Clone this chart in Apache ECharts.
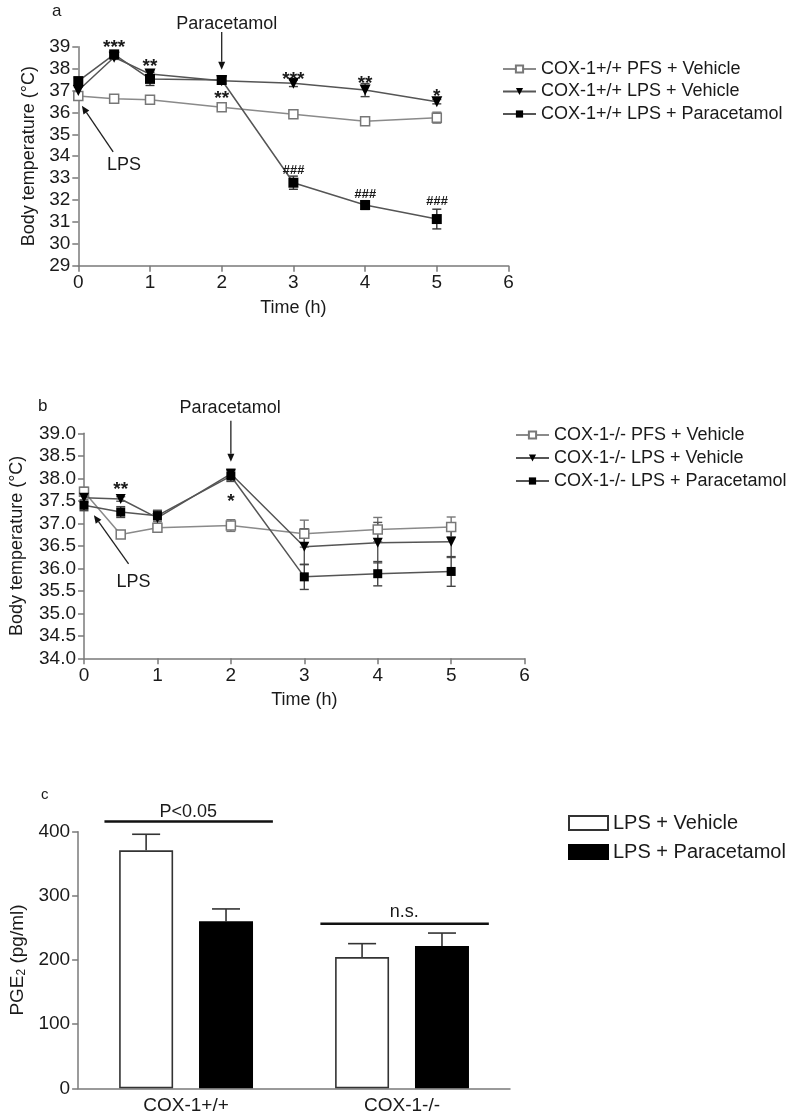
<!DOCTYPE html>
<html><head><meta charset="utf-8">
<script src="https://cdn.jsdelivr.net/npm/echarts@6/dist/echarts.min.js"></script>
<style>html,body{margin:0;padding:0;background:#fff}#c{width:800px;height:1120px}</style>
</head><body><div id="c"></div>
<script>
var FONT = '"Liberation Sans", Arial, Helvetica, sans-serif';

// ---------- DATA ----------
var times = [0, 0.5, 1, 2, 3, 4, 5];

// Panel a (COX-1+/+)
var aNames = ['COX-1+/+ PFS + Vehicle', 'COX-1+/+ LPS + Vehicle', 'COX-1+/+ LPS + Paracetamol'];
var aPFS = [36.75, 36.62, 36.58, 36.23, 35.91, 35.60, 35.76];
var aPFSErr = [0.10, 0.10, 0.10, 0.10, 0.10, 0.10, 0.25];
var aLPSVeh = [37.00, 38.52, 37.75, 37.45, 37.33, 37.02, 36.49];
var aLPSVehErr = [0.15, 0.10, 0.15, 0.15, 0.15, 0.30, 0.10];
var aLPSPara = [37.43, 38.65, 37.53, 37.48, 32.79, 31.77, 31.13];
var aLPSParaErr = [0.15, 0.10, 0.30, 0.15, 0.30, 0.20, 0.45];
var aStars = [[0.5, 39.17, '***'], [1, 38.30, '**'], [2, 36.87, '**'], [3, 37.70, '***'], [4, 37.55, '**'], [5, 36.95, '*']];
var aHashes = [[3, 33.37, '###'], [4, 32.26, '###'], [5, 31.92, '###']];

// Panel b (COX-1-/-)
var bNames = ['COX-1-/- PFS + Vehicle', 'COX-1-/- LPS + Vehicle', 'COX-1-/- LPS + Paracetamol'];
var bPFS = [37.70, 36.75, 36.90, 36.95, 36.77, 36.86, 36.92];
var bPFSErr = [0.10, 0.05, 0.10, 0.13, 0.30, 0.27, 0.22];
var bLPSVeh = [37.57, 37.54, 37.12, 38.10, 36.48, 36.57, 36.59];
var bLPSVehErr = [0.10, 0.05, 0.15, 0.10, 0.40, 0.45, 0.35];
var bLPSPara = [37.40, 37.25, 37.17, 38.05, 35.81, 35.88, 35.93];
var bLPSParaErr = [0.12, 0.12, 0.12, 0.12, 0.28, 0.27, 0.33];
var bStars = [[0.5, 37.85, '**'], [2, 37.59, '*']];

// Panel c (PGE2)
var cCategories = ['COX-1+/+', 'COX-1-/-'];
var cNames = ['LPS + Vehicle', 'LPS + Paracetamol'];
var cVehicle = [371, 204.5];
var cVehicleErr = [25, 21];
var cPara = [260.6, 222];
var cParaErr = [19, 20];

// ---------- STYLE ----------
var AXIS = '#7a7a7a', TXT = '#1a1a1a', LINE_LIGHT = '#8a8a8a', LINE_DARK = '#555';

var chart = echarts.init(document.getElementById('c'), null, {renderer: 'canvas'});

function pairs(xs, ys) { return xs.map(function (x, i) { return [x, ys[i]]; }); }
function errData(xs, ys, es) { return xs.map(function (x, i) { return [x, ys[i], es[i]]; }); }

function errRender(cap, color) {
  return function (params, api) {
    var x = api.value(0), y = api.value(1), e = api.value(2);
    var t = api.coord([x, y + e]), b = api.coord([x, y - e]);
    var st = {stroke: color, lineWidth: 1.4};
    return {type: 'group', children: [
      {type: 'line', shape: {x1: t[0], y1: t[1], x2: b[0], y2: b[1]}, style: st},
      {type: 'line', shape: {x1: t[0] - cap / 2, y1: t[1], x2: t[0] + cap / 2, y2: t[1]}, style: st},
      {type: 'line', shape: {x1: b[0] - cap / 2, y1: b[1], x2: b[0] + cap / 2, y2: b[1]}, style: st}
    ]};
  };
}

function axisCommon() {
  return {
    axisLine: {show: true, onZero: false, lineStyle: {color: AXIS, width: 1.5}},
    axisTick: {show: true, inside: false, length: 6, lineStyle: {color: AXIS, width: 1.5}},
    splitLine: {show: false},
    axisLabel: {color: TXT, fontSize: 19, fontFamily: FONT}
  };
}
function merge(a, b) { for (var k in b) a[k] = b[k]; return a; }

function lineSeries(name, gi, ys, kind, size) {
  var s = {
    name: name, type: 'line', xAxisIndex: gi, yAxisIndex: gi,
    data: pairs(times, ys), symbolSize: size, z: 5,
    lineStyle: {width: 1.5, color: kind === 'open' ? LINE_LIGHT : LINE_DARK},
    emphasis: {disabled: true}
  };
  if (kind === 'open') {
    s.symbol = 'rect';
    s.itemStyle = {color: '#fff', borderColor: '#777', borderWidth: 1.5};
  } else if (kind === 'tri') {
    s.symbol = 'triangle'; s.symbolRotate = 180;
    s.itemStyle = {color: '#000', borderColor: '#000', borderWidth: 0};
  } else {
    s.symbol = 'rect';
    s.itemStyle = {color: '#000', borderColor: '#000', borderWidth: 0};
  }
  return s;
}
function errSeries(gi, ys, es, cap, color) {
  return {type: 'custom', xAxisIndex: gi, yAxisIndex: gi, z: 4, silent: true,
    renderItem: errRender(cap, color), data: errData(times, ys, es)};
}

var BAR_W = 0.25, BAR_GAP = 0.48;
function barErrRender(sign) {
  return function (params, api) {
    var ci = api.value(0), v = api.value(1), e = api.value(2);
    var band = api.size([1, 0])[0];
    var off = sign * band * BAR_W * (1 + BAR_GAP) / 2;
    var b = api.coord([ci, v]), t = api.coord([ci, v + e]);
    var x = b[0] + off;
    var st = {stroke: '#333', lineWidth: 1.6};
    return {type: 'group', children: [
      {type: 'line', shape: {x1: x, y1: b[1], x2: x, y2: t[1]}, style: st},
      {type: 'line', shape: {x1: x - 14, y1: t[1], x2: x + 14, y2: t[1]}, style: st}
    ]};
  };
}

var legendText = {color: TXT, fontSize: 18, fontFamily: FONT};

var option = {
  backgroundColor: '#fff',
  animation: false,
  textStyle: {fontFamily: FONT},
  grid: [
    {left: 78.3, top: 46.7, width: 430.2, height: 219},
    {left: 80, top: 433.3, width: 444.6, height: 225},
    {left: 68.3, top: 831.7, width: 441.7, height: 256.6}
  ],
  legend: [
    {data: aNames, orient: 'vertical', left: 497, top: 55, itemWidth: 33, itemHeight: 9, itemGap: 4.5,
      textStyle: legendText, selectedMode: false},
    {data: bNames, orient: 'vertical', left: 510, top: 421, itemWidth: 33, itemHeight: 9, itemGap: 5,
      textStyle: legendText, selectedMode: false},
    {data: cNames, orient: 'vertical', left: 563, top: 808, itemWidth: 39, itemHeight: 14, itemGap: 9,
      icon: 'rect', textStyle: {color: TXT, fontSize: 20, fontFamily: FONT}, selectedMode: false}
  ],
  xAxis: [
    merge(axisCommon(), {gridIndex: 0, type: 'value', min: 0, max: 6, interval: 1,
      name: 'Time (h)', nameLocation: 'middle', nameGap: 33,
      nameTextStyle: {color: TXT, fontSize: 18, fontFamily: FONT}}),
    merge(axisCommon(), {gridIndex: 1, type: 'value', min: 0, max: 6, interval: 1,
      name: 'Time (h)', nameLocation: 'middle', nameGap: 33,
      nameTextStyle: {color: TXT, fontSize: 18, fontFamily: FONT}}),
    merge(axisCommon(), {gridIndex: 2, type: 'category', data: cCategories,
      axisTick: {show: false}})
  ],
  yAxis: [
    merge(axisCommon(), {gridIndex: 0, type: 'value', min: 29, max: 39, interval: 1,
      name: 'Body temperature (°C)', nameLocation: 'middle', nameGap: 33,
      nameTextStyle: {color: TXT, fontSize: 18, fontFamily: FONT}}),
    merge(axisCommon(), {gridIndex: 1, type: 'value', min: 34, max: 39, interval: 0.5,
      name: 'Body temperature (°C)', nameLocation: 'middle', nameGap: 58,
      nameTextStyle: {color: TXT, fontSize: 18, fontFamily: FONT},
      axisLabel: {color: TXT, fontSize: 19, fontFamily: FONT, formatter: function (v) { return v.toFixed(1); }}}),
    merge(axisCommon(), {gridIndex: 2, type: 'value', min: 0, max: 400, interval: 100,
      name: 'PGE{sub|2} (pg/ml)', nameLocation: 'middle', nameGap: 45,
      nameTextStyle: {color: TXT, fontSize: 19, fontFamily: FONT,
        rich: {sub: {fontSize: 12, verticalAlign: 'bottom', padding: [8, 0, 0, 0], color: TXT}}}})
  ],
  series: [
    errSeries(0, aPFS, aPFSErr, 9, '#777'),
    errSeries(0, aLPSVeh, aLPSVehErr, 9, '#444'),
    errSeries(0, aLPSPara, aLPSParaErr, 9, '#333'),
    lineSeries(aNames[0], 0, aPFS, 'open', 9),
    lineSeries(aNames[1], 0, aLPSVeh, 'tri', 11),
    lineSeries(aNames[2], 0, aLPSPara, 'sq', 10),

    errSeries(1, bPFS, bPFSErr, 9, '#777'),
    errSeries(1, bLPSVeh, bLPSVehErr, 9, '#555'),
    errSeries(1, bLPSPara, bLPSParaErr, 9, '#444'),
    lineSeries(bNames[0], 1, bPFS, 'open', 9),
    lineSeries(bNames[1], 1, bLPSVeh, 'tri', 10),
    lineSeries(bNames[2], 1, bLPSPara, 'sq', 9),

    {name: cNames[0], type: 'bar', xAxisIndex: 2, yAxisIndex: 2, data: cVehicle,
      barWidth: (BAR_W * 100) + '%', barGap: (BAR_GAP * 100) + '%',
      itemStyle: {color: '#fff', borderColor: '#333', borderWidth: 1.6}, emphasis: {disabled: true}},
    {name: cNames[1], type: 'bar', xAxisIndex: 2, yAxisIndex: 2, data: cPara,
      barWidth: (BAR_W * 100) + '%', barGap: (BAR_GAP * 100) + '%',
      itemStyle: {color: '#000', borderColor: '#000', borderWidth: 1.6}, emphasis: {disabled: true}},
    {type: 'custom', xAxisIndex: 2, yAxisIndex: 2, z: 1, silent: true, renderItem: barErrRender(-1),
      data: cVehicle.map(function (v, i) { return [i, v, cVehicleErr[i]]; })},
    {type: 'custom', xAxisIndex: 2, yAxisIndex: 2, z: 1, silent: true, renderItem: barErrRender(1),
      data: cPara.map(function (v, i) { return [i, v, cParaErr[i]]; })}
  ]
};
chart.setOption(option);

// ---------- ANNOTATIONS (positions from data coordinates) ----------
function px(g, x, y) { return chart.convertToPixel({gridIndex: g}, [x, y]); }
var G = [];
function text(p, s, font, dy, align) {
  G.push({type: 'text', x: p[0], y: p[1] + (dy || 0), z: 50,
    style: {text: s, font: font, fill: TXT, align: align || 'center', verticalAlign: 'middle'}});
}
function arrow(p1, p2) {
  var dx = p2[0] - p1[0], dy = p2[1] - p1[1], L = Math.sqrt(dx * dx + dy * dy);
  var ux = dx / L, uy = dy / L, hl = 8, hw = 3.5;
  var bx = p2[0] - ux * hl, by = p2[1] - uy * hl;
  G.push({type: 'line', z: 50, shape: {x1: p1[0], y1: p1[1], x2: bx, y2: by}, style: {stroke: '#222', lineWidth: 1.3}});
  G.push({type: 'polygon', z: 50, shape: {points: [[p2[0], p2[1]], [bx - uy * hw, by + ux * hw], [bx + uy * hw, by - ux * hw]]},
    style: {fill: '#111'}});
}
// panel labels
G.push({type: 'text', left: 52, top: 3, style: {text: 'a', font: '17px ' + FONT, fill: TXT}});
G.push({type: 'text', left: 38, top: 398, style: {text: 'b', font: '17px ' + FONT, fill: TXT}});
G.push({type: 'text', left: 41, top: 787, style: {text: 'c', font: '15px ' + FONT, fill: TXT}});

// panel a
text(px(0, 2.07, 40.04), 'Paracetamol', '18px ' + FONT);
arrow(px(0, 2, 39.67), px(0, 2, 37.95));
text(px(0, 0.637, 33.6), 'LPS', '18px ' + FONT);
arrow(px(0, 0.486, 34.2), px(0, 0.05, 36.3));
aStars.forEach(function (s) { text(px(0, s[0], s[1]), s[2], 'bold 19px ' + FONT, 5); });
aHashes.forEach(function (s) { text(px(0, s[0], s[1]), s[2], 'italic bold 13px ' + FONT, 0); });

// panel b
text(px(1, 1.99, 39.56), 'Paracetamol', '18px ' + FONT);
arrow(px(1, 2, 39.28), px(1, 2, 38.37));
text(px(1, 0.675, 35.7), 'LPS', '18px ' + FONT);
arrow(px(1, 0.607, 36.1), px(1, 0.135, 37.18));
bStars.forEach(function (s) { text(px(1, s[0], s[1]), s[2], 'bold 19px ' + FONT, 5); });

// panel c significance bars
var c0 = px(2, 0, 0), c1 = px(2, 1, 0), unit = c1[0] - c0[0];
function cx(ci, f) { return c0[0] + (ci + f) * unit; }
var sig = [[0, 416, 430.5, 'P<0.05'], [1, 256.4, 275, 'n.s.']];
sig.forEach(function (s) {
  var yl = px(2, 0, s[1])[1], yt = px(2, 0, s[2])[1];
  G.push({type: 'line', z: 50, shape: {x1: cx(s[0], -0.378), y1: yl, x2: cx(s[0], 0.402), y2: yl},
    style: {stroke: '#111', lineWidth: 2.6}});
  text([cx(s[0], 0.01), yt], s[3], '18px ' + FONT);
});

chart.setOption({graphic: G});
</script></body></html>
